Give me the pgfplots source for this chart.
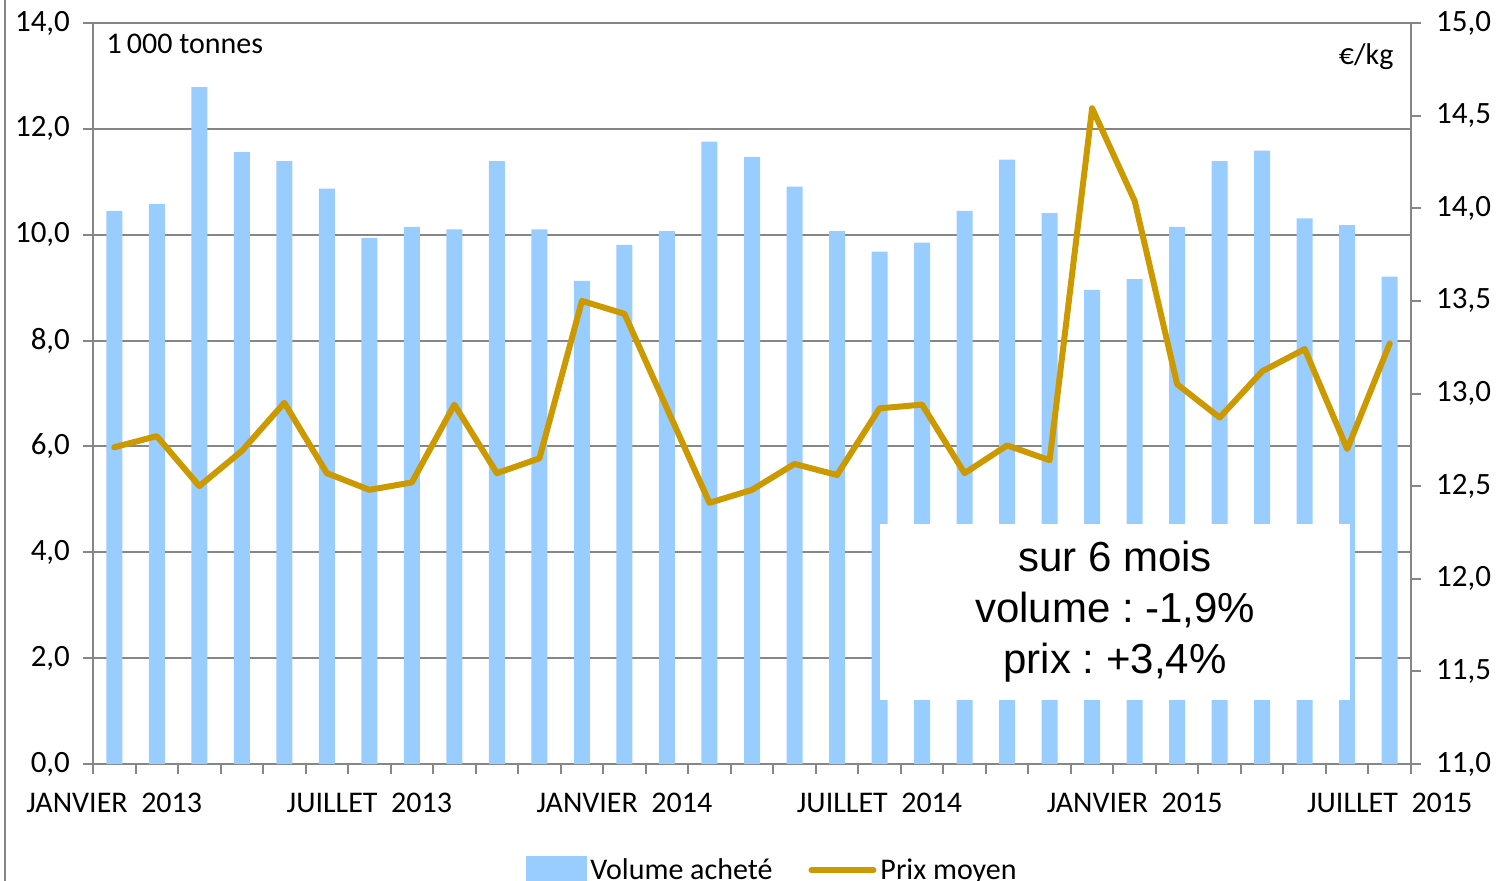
\documentclass[border=0pt]{standalone}
\usepackage{fontspec}
\setmainfont{Carlito}
\newfontfamily\arialfont{Liberation Sans}
\usepackage{pgfplots}
\usepackage{pgfplotstable}
\pgfplotsset{compat=1.18}
\definecolor{barblue}{HTML}{99CCFF}
\definecolor{linegold}{HTML}{CC9900}
\definecolor{axgray}{HTML}{868686}
\frenchspacing

% month index, volume (1000 t), mean price (EUR/kg)
\pgfplotstableread{
m  vol    prix
1  10.45  12.71
2  10.58  12.77
3  12.79  12.50
4  11.56  12.69
5  11.39  12.95
6  10.87  12.57
7  9.94   12.48
8  10.15  12.52
9  10.10  12.94
10 11.39  12.57
11 10.10  12.65
12 9.13   13.50
13 9.81   13.43
14 10.07  12.92
15 11.76  12.41
16 11.47  12.48
17 10.91  12.62
18 10.07  12.56
19 9.68   12.92
20 9.85   12.94
21 10.45  12.57
22 11.42  12.72
23 10.41  12.64
24 8.96   14.54
25 9.16   14.04
26 10.15  13.05
27 11.39  12.87
28 11.59  13.12
29 10.31  13.24
30 10.18  12.70
31 9.21   13.27
}\data

\begin{document}
\begin{tikzpicture}
\pgfplotsset{
  base/.style={
    scale only axis, width=659pt, height=370.5pt,
    at={(0,0)}, anchor=south west,
    xmin=0.5, xmax=31.5,
    axis line style={axgray, line width=1.2pt},
    tick style={axgray, line width=1pt},
    tick align=outside,
    yticklabel style={font=\fontsize{15.5}{18}\selectfont},
    xticklabel style={font=\fontsize{15}{18}\selectfont},
    /pgf/number format/use comma,
    /pgf/number format/fixed,
    /pgf/number format/fixed zerofill,
    /pgf/number format/precision=1,
    /pgf/number format/assume math mode=true,
  }
}
\begin{axis}[base,
  axis lines*=left,
  ybar, bar width=8pt,
  ymin=0, ymax=14, ytick={0,2,...,14},
  ymajorgrids, grid style={axgray, line width=1pt},
  major tick length=5pt,
  xtick={0.5,1.5,...,31.5}, xticklabels={},
  extra x ticks={1,7,13,19,25,31},
  extra x tick labels={JANVIER\ \ 2013, JUILLET\ \ 2013, JANVIER\ \ 2014, JUILLET\ \ 2014, JANVIER\ \ 2015, JUILLET\ \ 2015},
  extra x tick style={major tick length=0pt, tick label style={yshift=-11pt}},
  yticklabel style={xshift=-3pt},
]
\addplot[fill=barblue, draw=none] table[x=m, y=vol] {\data};
\node[anchor=west, font=\fontsize{15}{18}\selectfont] at (rel axis cs:0.005,0.972) {1\,000 tonnes};
\end{axis}

\begin{axis}[base,
  axis x line=none, axis y line*=right,
  ymin=11, ymax=15, ytick={11,11.5,...,15},
  major tick length=5pt,
  yticklabel style={xshift=4pt},
  legend style={at={(rel axis cs:0.516,-0.116)}, anchor=north, draw=none, fill=none,
    legend columns=2, font=\fontsize{15}{18}\selectfont,
    /tikz/every even column/.append style={column sep=16pt}},
]
\addlegendimage{legend image code/.code={\fill[barblue] (0pt,-7pt) rectangle (30pt,7pt);}}
\addlegendentry{Volume acheté}
\addplot[linegold, line width=3pt, line join=round, line cap=round,
  legend image code/.code={\draw[linegold, line width=3pt, line cap=round] (0pt,0pt) -- (31pt,0pt);}]
  table[x=m, y=prix] {\data};
\addlegendentry{Prix moyen}
\fill[white] (rel axis cs:0.597,0.0864) rectangle (rel axis cs:0.954,0.324);
\node[font=\arialfont\fontsize{21}{25.5}\selectfont, align=center] at (rel axis cs:0.7755,0.205)
  {sur 6 mois\\volume : -1,9\%\\prix : +3,4\%};
\node[anchor=east, font=\fontsize{15}{18}\selectfont] at (rel axis cs:0.992,0.954) {€/kg};
\end{axis}
\draw[axgray, line width=1pt] (-44pt,-60pt) -- (-44pt,385pt);
\pgfresetboundingbox
\path[use as bounding box] (-46.5pt,-58pt) rectangle (703pt,382pt);
\end{tikzpicture}
\end{document}
